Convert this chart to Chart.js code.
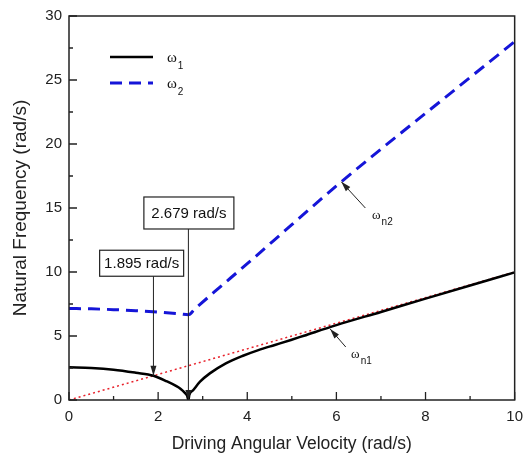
<!DOCTYPE html>
<html>
<head>
<meta charset="utf-8">
<script src="https://cdn.jsdelivr.net/npm/chart.js@4.4.1/dist/chart.umd.min.js"></script>
<style>
  html, body { margin: 0; padding: 0; background: #fff; }
</style>
</head>
<body>
<canvas id="grafico" width="531" height="459"></canvas>
<script>
// valores (velocidade angular x frequencia natural)
const w1X = [0, 0.5, 1, 1.5, 1.895, 2.2, 2.4, 2.5, 2.6, 2.65, 2.679, 2.7, 2.79, 2.94, 3.16, 3.52, 3.89, 4.25, 4.62, 4.98, 5.27, 6, 7, 8, 9, 10];
const w1Y = [2.55, 2.5, 2.37, 2.13, 1.9, 1.45, 1.1, 0.88, 0.55, 0.33, 0, 0.4, 0.78, 1.43, 2.08, 2.86, 3.44, 3.9, 4.3, 4.69, 5.02, 5.85, 6.88, 7.92, 8.95, 9.97];

const w2X = [0, 0.5, 1, 1.5, 2, 2.5, 2.679, 2.82, 3.26, 4, 5, 6, 7, 8, 9, 10];
const w2Y = [7.15, 7.12, 7.06, 6.98, 6.87, 6.72, 6.66, 7.1, 8.44, 10.65, 13.7, 16.72, 19.6, 22.4, 25.2, 28.0];

// reta w = Omega
const refX = [0, 10];
const refY = [0, 10];

const xMajor = [0, 2, 4, 6, 8, 10];
const xMinor = [1, 3, 5, 7, 9];
const yMajor = [0, 5, 10, 15, 20, 25, 30];
const yMinor = [2.5, 7.5, 12.5, 17.5, 22.5, 27.5];

const legendNames = ['1', '2'];
const criticos = [1.895, 2.679];

function pontos(xs, ys) {
  return xs.map((x, i) => ({ x: x, y: ys[i] }));
}

// seta com ponta preenchida
function seta(ctx, x1, y1, x2, y2) {
  ctx.beginPath();
  ctx.moveTo(x1, y1);
  ctx.lineTo(x2, y2);
  ctx.stroke();
  const ang = Math.atan2(y2 - y1, x2 - x1);
  const L = 10, W = 3;
  ctx.beginPath();
  ctx.moveTo(x2, y2);
  ctx.lineTo(x2 - L * Math.cos(ang) + W * Math.sin(ang), y2 - L * Math.sin(ang) - W * Math.cos(ang));
  ctx.lineTo(x2 - L * Math.cos(ang) - W * Math.sin(ang), y2 - L * Math.sin(ang) + W * Math.cos(ang));
  ctx.closePath();
  ctx.fill();
}

// omega com subscrito
function omega(ctx, x, y, sub, size, subSize) {
  ctx.textAlign = 'left';
  ctx.textBaseline = 'alphabetic';
  ctx.font = size + 'px "Liberation Serif"';
  ctx.fillText('ω', x, y);
  const w = ctx.measureText('ω').width;
  ctx.font = subSize + 'px "Liberation Sans"';
  ctx.fillText(sub, x + w + 1, y + size * 0.45);
}

function caixa(ctx, cx, top, w, h, texto) {
  ctx.fillStyle = '#fff';
  ctx.fillRect(cx - w / 2, top, w, h);
  ctx.strokeStyle = '#222';
  ctx.lineWidth = 1.2;
  ctx.strokeRect(cx - w / 2, top, w, h);
  ctx.fillStyle = '#111';
  ctx.font = '15px "Liberation Sans"';
  ctx.textAlign = 'center';
  ctx.textBaseline = 'middle';
  ctx.fillText(texto, cx, top + h / 2 + 1);
}

const extras = {
  id: 'extras',
  afterDatasetsDraw(chart) {
    const ctx = chart.ctx;
    const a = chart.chartArea;
    const xs = chart.scales.x, ys = chart.scales.y;
    ctx.save();

    // moldura
    ctx.strokeStyle = '#222';
    ctx.lineWidth = 1.5;
    ctx.strokeRect(a.left, a.top, a.right - a.left, a.bottom - a.top);

    // marcas internas
    ctx.lineWidth = 1.3;
    ctx.beginPath();
    xMajor.forEach(v => { const p = xs.getPixelForValue(v); ctx.moveTo(p, a.bottom); ctx.lineTo(p, a.bottom - 8); });
    xMinor.forEach(v => { const p = xs.getPixelForValue(v); ctx.moveTo(p, a.bottom); ctx.lineTo(p, a.bottom - 4); });
    yMajor.forEach(v => { const p = ys.getPixelForValue(v); ctx.moveTo(a.left, p); ctx.lineTo(a.left + 8, p); });
    yMinor.forEach(v => { const p = ys.getPixelForValue(v); ctx.moveTo(a.left, p); ctx.lineTo(a.left + 4, p); });
    ctx.stroke();

    // legenda
    const ds = chart.data.datasets;
    [0, 1].forEach(i => {
      const ly = a.top + 41 + i * 26;
      ctx.strokeStyle = ds[i].borderColor;
      ctx.lineWidth = ds[i].borderWidth;
      ctx.setLineDash(ds[i].borderDash || []);
      ctx.beginPath();
      ctx.moveTo(a.left + 41, ly);
      ctx.lineTo(a.left + 84, ly);
      ctx.stroke();
      ctx.setLineDash([]);
      ctx.fillStyle = '#111';
      omega(ctx, a.left + 98, ly + 5, legendNames[i], 15, 10);
    });

    // caixas com as velocidades criticas
    ctx.strokeStyle = '#222';
    ctx.fillStyle = '#222';
    ctx.lineWidth = 1;
    const p1 = xs.getPixelForValue(criticos[0]);
    const p2 = xs.getPixelForValue(criticos[1]);
    seta(ctx, p1, ys.getPixelForValue(9.7), p1, ys.getPixelForValue(criticos[0]));
    seta(ctx, p2, ys.getPixelForValue(13.4), p2, ys.getPixelForValue(0));
    caixa(ctx, xs.getPixelForValue(1.63), ys.getPixelForValue(11.7), 84, 26, criticos[0].toFixed(3) + ' rad/s');
    caixa(ctx, xs.getPixelForValue(2.69), ys.getPixelForValue(15.86), 90, 32, criticos[1].toFixed(3) + ' rad/s');

    // rotulos wn1 e wn2
    ctx.strokeStyle = '#222';
    ctx.fillStyle = '#222';
    ctx.lineWidth = 1;
    seta(ctx, xs.getPixelForValue(6.65), ys.getPixelForValue(15.0), xs.getPixelForValue(6.11), ys.getPixelForValue(17.05));
    seta(ctx, xs.getPixelForValue(6.21), ys.getPixelForValue(4.14), xs.getPixelForValue(5.86), ys.getPixelForValue(5.55));
    ctx.fillStyle = '#111';
    omega(ctx, xs.getPixelForValue(6.8), ys.getPixelForValue(14.15), 'n2', 13, 10);
    omega(ctx, xs.getPixelForValue(6.33), ys.getPixelForValue(3.3), 'n1', 13, 10);

    ctx.restore();
  }
};

new Chart(document.getElementById('grafico'), {
  type: 'line',
  data: {
    datasets: [
      {
        label: 'ω1',
        data: pontos(w1X, w1Y),
        borderColor: '#000',
        borderWidth: 2.5,
        pointRadius: 0,
        cubicInterpolationMode: 'monotone'
      },
      {
        label: 'ω2',
        data: pontos(w2X, w2Y),
        borderColor: '#1515d8',
        borderWidth: 3,
        borderDash: [12, 7],
        pointRadius: 0,
        cubicInterpolationMode: 'monotone'
      },
      {
        label: 'ω = Ω',
        data: pontos(refX, refY),
        borderColor: '#e8202a',
        borderWidth: 1.5,
        borderDash: [2, 3],
        pointRadius: 0
      }
    ]
  },
  options: {
    responsive: false,
    animation: false,
    devicePixelRatio: 1,
    layout: { padding: { top: 16, right: 5, left: 0, bottom: 0 } },
    plugins: {
      legend: { display: false },
      tooltip: { enabled: false }
    },
    scales: {
      x: {
        type: 'linear',
        min: 0,
        max: 10,
        grid: { display: false, drawTicks: false },
        border: { display: false },
        ticks: { stepSize: 2, padding: 8, color: '#222', font: { family: 'Liberation Sans', size: 15 } },
        title: { display: true, text: 'Driving Angular Velocity (rad/s)', color: '#222', padding: { top: 0, bottom: 4 }, font: { family: 'Liberation Sans', size: 17.5 } },
        afterFit: s => { s.height = 59; }
      },
      y: {
        min: 0,
        max: 30,
        grid: { display: false, drawTicks: false },
        border: { display: false },
        ticks: { stepSize: 5, padding: 7, color: '#222', font: { family: 'Liberation Sans', size: 15 } },
        title: { display: true, text: 'Natural Frequency (rad/s)', color: '#222', padding: { top: 9, bottom: 0 }, font: { family: 'Liberation Sans', size: 19 } },
        afterFit: s => { s.width = 69; }
      }
    }
  },
  plugins: [extras]
});
</script>
</body>
</html>
